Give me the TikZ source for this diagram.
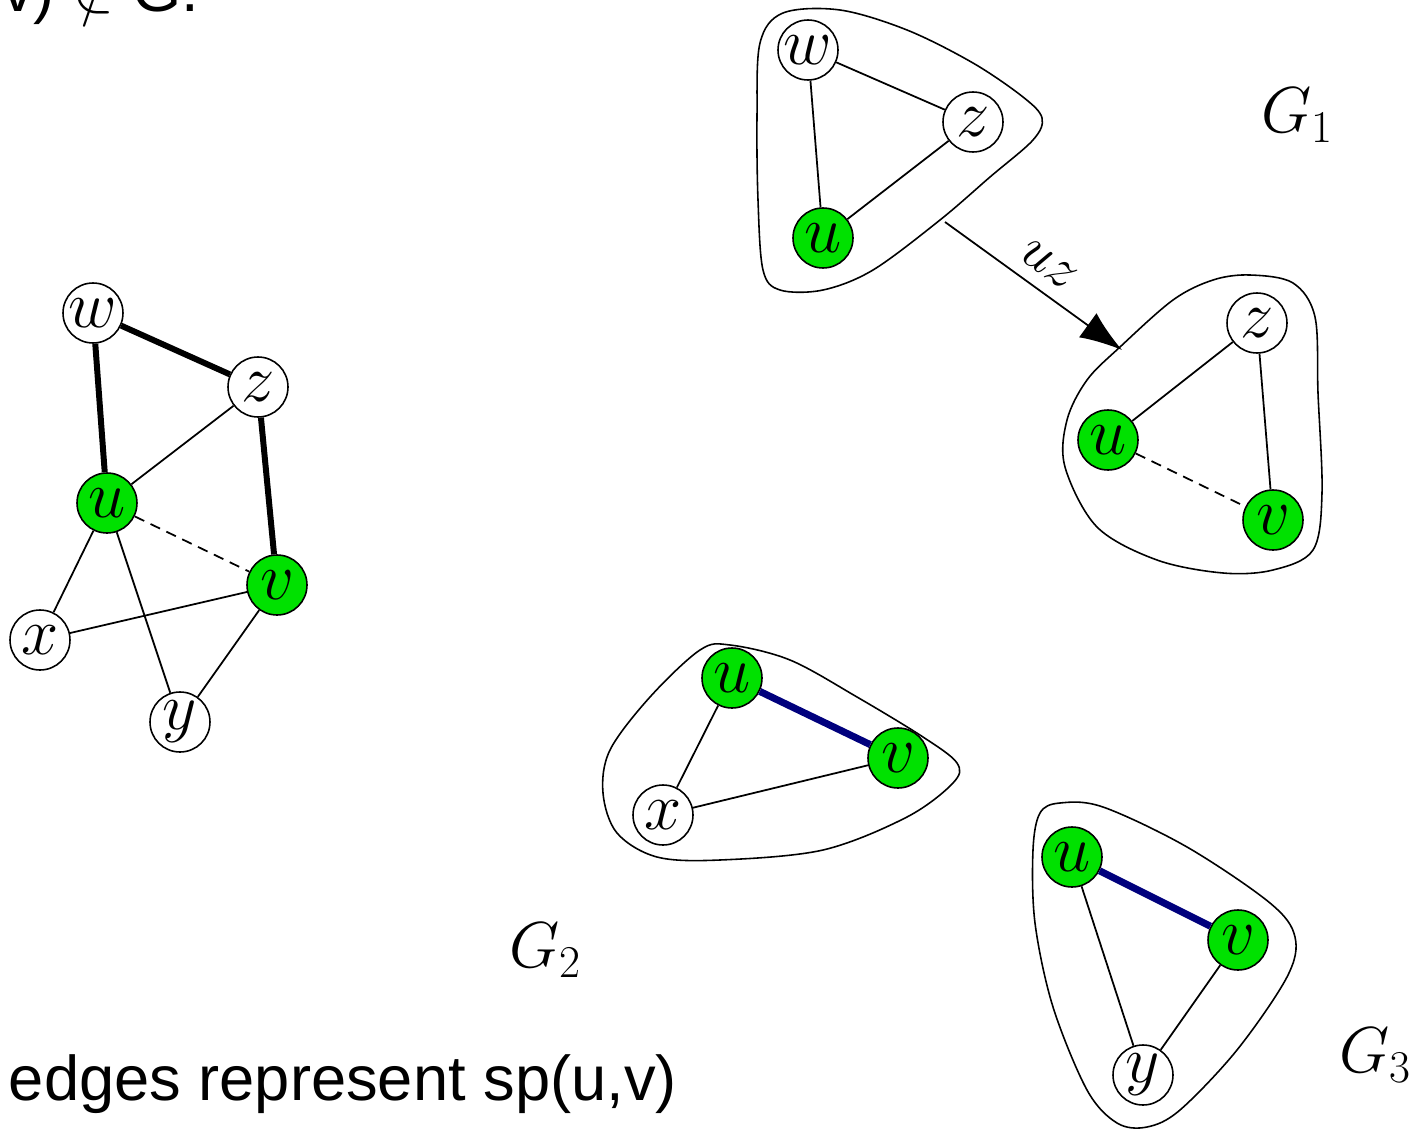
\RequirePackage{fix-cm}
\documentclass[tikz,border=0pt]{standalone}
\usepackage{fontspec}
\setmainfont{Liberation Sans}
\usepackage{xcolor}
\usetikzlibrary{positioning}
\usetikzlibrary{arrows.meta}
\definecolor{vgreen}{RGB}{0,225,0}
\definecolor{spblue}{RGB}{0,0,125}
\tikzset{edge/.style = {-{Latex[length=24pt,width=17pt]}}}

\begin{document}
\begin{tikzpicture}[x=0.02cm,y=-0.02cm,line width=1pt,
    main node/.style={circle,draw,fill=white,minimum size=1.2cm,inner sep=0pt,line width=0.9pt,font=\fontsize{38}{38}\selectfont},
    end node/.style={main node,fill=vgreen},
    path edge/.style={line width=3.4pt},
    sp edge/.style={line width=4pt,spblue},
    gap edge/.style={dash pattern=on 6pt off 4pt},
    blob/.style={line width=0.9pt},
    glabel/.style={font=\fontsize{37}{37}\selectfont}]
    \clip (0,0) rectangle (1414,1132);

    % whole graph
    \node[main node] (w) at (93,313) {$w$};
    \node[main node] (z) at (258,387) {$z$};
    \node[end node] (u) at (107,503) {$u$};
    \node[end node] (v) at (277,585) {$v$};
    \node[main node] (x) at (40,640) {$x$};
    \node[main node] (y) at (180,722) {$y$};

    \path (w) edge[path edge] (z);
    \path (w) edge[path edge] (u);
    \path (z) edge[path edge] (v);
    \path (z) edge (u);
    \path (u) edge[gap edge] (v);
    \path (u) edge (x);
    \path (u) edge (y);
    \path (x) edge (v);
    \path (v) edge (y);

    % G1
    \draw[blob] plot[smooth cycle,tension=0.55] coordinates {(760,43) (783,13) (840,10) (907,30) (973,63) (1023,97) (1042,118) (1033,140) (990,177) (940,220) (873,270) (823,290) (780,290) (763,270) (758,200) (757,117)};
    \node[main node] (w1) at (808,50) {$w$};
    \node[main node] (z1) at (973,122) {$z$};
    \node[end node] (u1) at (823,238) {$u$};
    \path (w1) edge (z1);
    \path (w1) edge (u1);
    \path (z1) edge (u1);
    \node[glabel] (g1) at (1297,115) {$G_1$};

    % G1 after contracting uz
    \draw[blob] plot[smooth cycle,tension=0.55] coordinates {(1250,275) (1293,283) (1315,317) (1318,393) (1322,493) (1313,550) (1273,570) (1223,573) (1157,560) (1097,527) (1065,467) (1067,420) (1087,380) (1120,347) (1173,300) (1213,280)};
    \node[main node] (z2) at (1257,323) {$z$};
    \node[end node] (u2) at (1108,440) {$u$};
    \node[end node] (v2) at (1273,520) {$v$};
    \path (z2) edge (u2);
    \path (z2) edge (v2);
    \path (u2) edge[gap edge] (v2);

    \coordinate (g1out) at (945,222);
    \coordinate (g1in) at (1122,350);
    \path (g1out) edge[edge] node[sloped,above=4pt,font=\fontsize{32}{32}\selectfont] {$uz$} (g1in);

    % G2
    \draw[blob] plot[smooth cycle,tension=0.55] coordinates {(700,650) (730,645) (790,660) (857,697) (923,737) (957,763) (953,783) (907,817) (823,850) (720,860) (657,857) (617,833) (603,793) (610,750) (650,697)};
    \node[end node] (u3) at (732,678) {$u$};
    \node[end node] (v3) at (898,758) {$v$};
    \node[main node] (x3) at (663,815) {$x$};
    \path (u3) edge[sp edge] (v3);
    \path (u3) edge (x3);
    \path (x3) edge (v3);
    \node[glabel] (g2) at (545,950) {$G_2$};

    % G3
    \draw[blob] plot[smooth cycle,tension=0.55] coordinates {(1040,813) (1060,803) (1103,807) (1187,847) (1270,903) (1295,937) (1287,977) (1237,1050) (1180,1110) (1147,1127) (1117,1123) (1087,1090) (1053,1007) (1035,923) (1033,850)};
    \node[end node] (u4) at (1072,857) {$u$};
    \node[end node] (v4) at (1238,940) {$v$};
    \node[main node] (y4) at (1143,1075) {$y$};
    \path (u4) edge[sp edge] (v4);
    \path (u4) edge (y4);
    \path (v4) edge (y4);
    \node[glabel] (g3) at (1375,1055) {$G_3$};

    % captions
    \node[anchor=base east,inner sep=0pt,font=\fontsize{36}{36}\selectfont] (cond) at (200,12) {(u,v) $\notin$ G.};
    \node[anchor=base west,inner sep=0pt,font=\fontsize{36}{36}\selectfont] (note) at (8,1100) {edges represent sp(u,v)};
\end{tikzpicture}
\end{document}
